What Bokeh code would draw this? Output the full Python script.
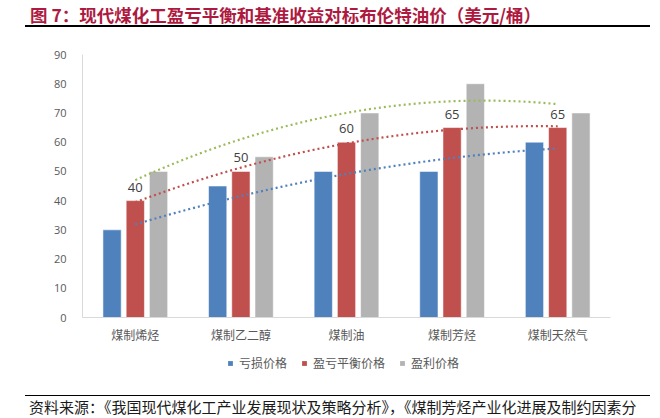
import numpy as np
from bokeh.plotting import figure
from bokeh.layouts import column
from bokeh.models import (Range1d, FixedTicker, ColumnDataSource, LabelSet,
                          Legend, LegendItem, Div)
from bokeh.core.properties import value
from bokeh.embed import file_html
from bokeh.resources import INLINE

categories = ["煤制烯烃", "煤制乙二醇", "煤制油", "煤制芳烃", "煤制天然气"]
loss_price = [30, 45, 50, 50, 60]
breakeven_price = [40, 50, 60, 65, 65]
profit_price = [50, 55, 70, 80, 70]
series_names = ["亏损价格", "盈亏平衡价格", "盈利价格"]
y_ticks = [0, 10, 20, 30, 40, 50, 60, 70, 80, 90]
title_text = "图 7：现代煤化工盈亏平衡和基准收益对标布伦特油价（美元/桶）"
source_text = "资料来源：《我国现代煤化工产业发展现状及策略分析》，《煤制芳烃产业化进展及制约因素分"

CJK = "Noto Sans CJK SC"
BLUE, RED, GRAY, GREEN = "#4F81BD", "#C0504D", "#B3B3B3", "#9BBB59"
TXT = "#595959"
W = 660
H_TOP, H_MAIN, H_LEG, H_BOT = 38, 309, 38, 33
BL, BR = 82, 50

# ---- title strip (HTML) ----
top = Div(width=W, height=H_TOP, margin=(0, 0, 0, 0), text=(
    f'<div style="position:relative;width:{W}px;height:{H_TOP}px;overflow:hidden">'
    f'<span style="position:absolute;left:30px;top:3px;white-space:nowrap;'
    f'font-family:\'{CJK}\';font-size:17.5px;font-weight:bold;color:#AE1A3F;line-height:24px">'
    f'{title_text}</span>'
    f'<div style="position:absolute;left:25px;top:25px;width:625px;height:1.6px;background:#000"></div>'
    f'</div>'))

# ---- main chart ----
x_idx = np.arange(1, len(categories) + 1)

p = figure(width=W, height=H_MAIN, output_backend="svg", toolbar_location=None,
           x_range=Range1d(0.5, len(categories) + 0.5), y_range=Range1d(0, y_ticks[-1]),
           min_border_left=BL, min_border_right=BR, min_border_top=16, min_border_bottom=30)
p.outline_line_color = None
p.xgrid.visible = False
p.ygrid.visible = False

src = ColumnDataSource(dict(x=x_idx, be=breakeven_price,
                            be_lbl=[str(v) for v in breakeven_price]))

bw = 0.173
off = 0.22
bar_style = dict(width=bw, line_color="#FFFFFF", line_alpha=0.55, line_width=1)
p.vbar(x=x_idx - off, top=loss_price, fill_color=BLUE, **bar_style)
p.vbar(x=x_idx, top=breakeven_price, fill_color=RED, **bar_style)
p.vbar(x=x_idx + off, top=profit_price, fill_color=GRAY, **bar_style)

# polynomial (order 2) trendlines fitted to each series
xs = np.linspace(x_idx[0], x_idx[-1], 120)
for ys, col in [(profit_price, GREEN), (breakeven_price, RED), (loss_price, BLUE)]:
    coef = np.polyfit(x_idx, ys, 2)
    p.line(xs, np.polyval(coef, xs), line_color=col, line_width=2.2, line_dash="2 3")

p.add_layout(LabelSet(x="x", y="be", text="be_lbl", source=src, y_offset=13.5,
                      text_align="center", text_baseline="middle",
                      text_font=value("Open Sans"), text_font_size="13px",
                      text_color="#404040"))

p.xaxis.ticker = FixedTicker(ticks=list(x_idx))
p.xaxis.major_label_overrides = {int(i): c for i, c in zip(x_idx, categories)}
p.xaxis.major_label_text_font = CJK
p.xaxis.major_label_text_font_size = "12px"
p.xaxis.major_label_text_color = TXT
p.xaxis.major_tick_line_color = None
p.xaxis.minor_tick_line_color = None
p.xaxis.axis_line_color = "#D9D9D9"
p.xaxis.major_label_standoff = 2

p.yaxis.ticker = FixedTicker(ticks=y_ticks)
p.yaxis.major_label_text_font = "Open Sans"
p.yaxis.major_label_text_font_size = "11px"
p.yaxis.major_label_text_color = TXT
p.yaxis.major_tick_line_color = None
p.yaxis.minor_tick_line_color = None
p.yaxis.axis_line_color = "#D9D9D9"
p.yaxis.major_label_standoff = 10

# ---- legend strip ----
leg = figure(width=W, height=H_LEG, output_backend="svg", toolbar_location=None,
             x_range=Range1d(0, 1), y_range=Range1d(0, 1),
             x_axis_location=None, y_axis_location=None,
             min_border_left=BL, min_border_right=BR, min_border_top=0, min_border_bottom=0)
leg.grid.visible = False
leg.outline_line_color = None
leg_r = [leg.vbar(x=[-5], top=[0], width=0.01, fill_color=c, line_color=None)
         for c in (BLUE, RED, GRAY)]
legend = Legend(items=[LegendItem(label=n, renderers=[r]) for n, r in zip(series_names, leg_r)],
                orientation="horizontal", location=(145, 14), padding=0, margin=0,
                spacing=14, glyph_width=6, glyph_height=6, label_standoff=6,
                label_height=14, label_text_font=CJK, label_text_font_size="12px",
                label_text_color=TXT, border_line_color=None, background_fill_alpha=0)
leg.add_layout(legend)

# ---- source strip (HTML) ----
bot = Div(width=W, height=H_BOT, margin=(0, 0, 0, 0), text=(
    f'<div style="position:relative;width:{W}px;height:{H_BOT}px;overflow:hidden">'
    f'<div style="position:absolute;left:25px;top:9.5px;width:625px;height:1.6px;background:#000"></div>'
    f'<span style="position:absolute;left:29px;top:12px;white-space:nowrap;'
    f'font-family:\'{CJK}\';font-size:15px;color:#1A1A1A;line-height:20px">'
    f'{source_text}</span>'
    f'</div>'))

layout = column(top, p, leg, bot, spacing=0)
open("out.html", "w").write(file_html(layout, INLINE))
